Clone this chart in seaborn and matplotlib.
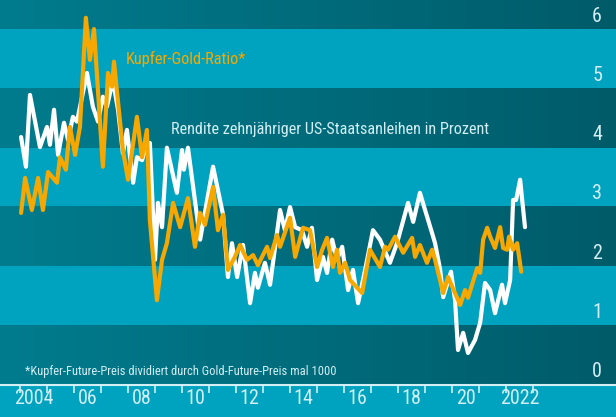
import matplotlib
matplotlib.use("Agg")
import matplotlib.pyplot as plt
import numpy as np
import pandas as pd
import seaborn as sns
from matplotlib.colors import LinearSegmentedColormap
from matplotlib import font_manager

# Rendite zehnjähriger US-Staatsanleihen (Prozent), Zeitpunkte als Dezimaljahr
rendite_jahr = [
    2004.04, 2004.22, 2004.37, 2004.74, 2005.00, 2005.11, 2005.26, 2005.41, 2005.63, 2005.78,
    2005.96, 2006.11, 2006.48, 2006.70, 2006.89, 2007.07, 2007.22, 2007.44, 2007.63, 2007.81,
    2007.96, 2008.19, 2008.33, 2008.52, 2008.70, 2008.81, 2009.00, 2009.11, 2009.26, 2009.44,
    2009.81, 2010.00, 2010.07, 2010.22, 2010.67, 2011.15, 2011.52, 2011.70, 2011.85, 2012.04,
    2012.26, 2012.52, 2012.70, 2012.81, 2013.07, 2013.26, 2013.63, 2013.81, 2014.00, 2014.19,
    2014.44, 2014.63, 2014.81, 2015.00, 2015.22, 2015.37, 2015.56, 2015.74, 2015.93, 2016.15,
    2016.33, 2016.52, 2016.78, 2017.07, 2017.33, 2017.70, 2017.96, 2018.37, 2018.56, 2018.81,
    2019.00, 2019.26, 2019.37, 2019.56, 2019.67, 2019.96, 2020.11, 2020.22, 2020.41, 2020.59,
    2020.85, 2021.04, 2021.22, 2021.41, 2021.59, 2021.85, 2021.96, 2022.15, 2022.26, 2022.37,
    2022.52, 2022.70,
]
rendite = [
    4.18, 3.68, 4.89, 4.01, 4.35, 4.05, 4.64, 3.88, 4.42, 4.13,
    4.52, 4.44, 5.26, 4.69, 4.44, 4.86, 4.69, 5.14, 4.64, 3.91,
    4.30, 3.41, 3.84, 3.79, 4.08, 4.08, 2.11, 3.07, 2.66, 4.00,
    3.24, 3.96, 3.63, 4.00, 2.45, 3.68, 2.87, 1.82, 2.39, 1.82,
    2.36, 1.38, 1.89, 1.64, 2.06, 1.69, 2.95, 2.61, 3.00, 2.66,
    2.61, 2.33, 2.65, 1.77, 2.16, 1.89, 2.45, 2.11, 2.33, 1.60,
    1.94, 1.38, 1.94, 2.61, 2.45, 2.06, 2.39, 3.07, 2.75, 3.24,
    2.95, 2.56, 2.39, 1.94, 1.48, 1.91, 1.43, 0.59, 0.88, 0.54,
    0.76, 1.05, 1.72, 1.60, 1.21, 1.69, 1.38, 1.77, 3.12, 3.12,
    3.46, 2.66,
]

# Kupfer-Gold-Ratio
ratio_jahr = [
    2004.04, 2004.19, 2004.44, 2004.67, 2004.85, 2005.04, 2005.37, 2005.48, 2005.70, 2005.85,
    2006.04, 2006.22, 2006.44, 2006.59, 2006.74, 2007.07, 2007.26, 2007.41, 2007.48, 2007.81,
    2008.00, 2008.33, 2008.52, 2008.70, 2008.81, 2009.07, 2009.26, 2009.44, 2009.67, 2009.93,
    2010.22, 2010.48, 2010.67, 2010.85, 2011.15, 2011.33, 2011.52, 2011.70, 2011.96, 2012.15,
    2012.41, 2012.63, 2012.81, 2013.15, 2013.26, 2013.52, 2013.63, 2014.00, 2014.19, 2014.48,
    2014.74, 2015.00, 2015.19, 2015.37, 2015.59, 2015.74, 2015.85, 2016.04, 2016.22, 2016.67,
    2016.96, 2017.33, 2017.52, 2017.63, 2017.89, 2018.19, 2018.52, 2018.63, 2018.81, 2019.07,
    2019.26, 2019.37, 2019.67, 2019.85, 2020.30, 2020.48, 2020.59, 2020.93, 2021.04, 2021.15,
    2021.30, 2021.41, 2021.59, 2021.78, 2021.89, 2022.04, 2022.11, 2022.26, 2022.41, 2022.56,
]
ratio = [
    2.90, 3.49, 2.95, 3.49, 2.95, 3.59, 3.41, 3.84, 3.63, 4.35,
    3.88, 4.35, 6.19, 5.48, 6.00, 3.68, 5.26, 5.03, 5.45, 3.96,
    3.46, 4.52, 3.84, 4.30, 2.78, 1.43, 2.11, 2.39, 3.07, 2.66,
    3.15, 2.33, 2.90, 2.70, 3.34, 2.61, 2.87, 1.94, 2.16, 2.36,
    2.11, 2.19, 2.02, 2.33, 2.14, 2.53, 2.33, 2.82, 2.16, 2.65,
    2.61, 1.99, 2.28, 2.48, 1.99, 2.28, 1.89, 2.06, 1.77, 1.55,
    2.28, 1.99, 2.33, 2.28, 2.50, 2.23, 2.48, 2.16, 2.36, 2.06,
    2.28, 2.11, 1.55, 1.82, 1.35, 1.60, 1.47, 1.97, 1.89, 2.45,
    2.65, 2.50, 2.31, 2.66, 2.31, 2.28, 2.50, 2.28, 2.39, 1.91,
]

x_beschriftung = ["2004", "06", "08", "10", "12", "14", "16", "18", "20", "2022"]
y_werte = [0, 1, 2, 3, 4, 5, 6]

hell = "#00a3bf"
dunkel_links = "#007c8e"
dunkel_rechts = "#005b69"
orange = "#f6a800"
text_hell = "#d3eef4"

sns.set_style("white")
plt.rcParams["font.family"] = ["DejaVu Sans"]
plt.rcParams["font.stretch"] = "condensed"

# schmale Schrift, falls vorhanden
namen = {f.name for f in font_manager.fontManager.ttflist}
schmal = None
for kandidat in ["Liberation Sans Narrow", "DejaVu Sans Condensed", "Roboto Condensed",
                 "Open Sans Condensed", "Noto Sans Condensed"]:
    if kandidat in namen:
        schmal = kandidat
        break
if schmal:
    plt.rcParams["font.family"] = [schmal, "DejaVu Sans"]

fig = plt.figure(figsize=(6.16, 4.17), dpi=100, facecolor=hell)
ax = fig.add_axes([0, 32 / 417, 1, 385 / 417])
ax.set_facecolor(hell)

xmin, xmax = 2003.26, 2026.07
ymax = 6.49

# Streifen: dunkle Bänder mit leichtem Verlauf
verlauf = LinearSegmentedColormap.from_list("verlauf", [dunkel_links, dunkel_rechts])
grad = np.linspace(0, 1, 256).reshape(1, -1)
for unten in [0, 2, 4, 6]:
    oben = min(unten + 1, ymax)
    ax.imshow(grad, extent=[xmin, xmax, unten, oben], aspect="auto",
              cmap=verlauf, zorder=0, interpolation="bicubic")

df_r = pd.DataFrame({"jahr": rendite_jahr, "wert": rendite})
df_k = pd.DataFrame({"jahr": ratio_jahr, "wert": ratio})
sns.lineplot(data=df_r, x="jahr", y="wert", color="white", lw=3, ax=ax,
             sort=False, zorder=3)
sns.lineplot(data=df_k, x="jahr", y="wert", color=orange, lw=3, ax=ax,
             sort=False, zorder=4)

ax.set_xlim(xmin, xmax)
ax.set_ylim(0, ymax)

# x-Achse: Striche an Jahresanfängen, Beschriftung in der Jahresmitte
jahre = np.arange(2004, 2024)
ax.set_xticks(jahre)
ax.set_xticks([2004.5 + 2 * i for i in range(len(x_beschriftung))], minor=True)
ax.set_xticklabels(x_beschriftung, minor=True, fontsize=14.5, color=text_hell)
ax.tick_params(axis="x", which="major", bottom=True, direction="out", length=6,
               width=1.2, color=text_hell, labelbottom=False)
ax.tick_params(axis="x", which="minor", bottom=True, length=0, pad=3)
ax.set_yticks([])
ax.set_xlabel("")
ax.set_ylabel("")
for s in ["top", "left", "right"]:
    ax.spines[s].set_visible(False)
ax.spines["bottom"].set_color(text_hell)
ax.spines["bottom"].set_linewidth(1.5)

# y-Beschriftung rechts im Diagramm
for v in y_werte:
    ax.text(2025.37, v + 0.06, str(v), ha="center", va="bottom",
            fontsize=14.5, color=text_hell, zorder=5)

ax.text(2007.9, 5.5, "Kupfer-Gold-Ratio*", color=orange, fontsize=11.8,
        ha="left", va="center", zorder=5)
ax.text(2009.6, 4.3, "Rendite zehnjähriger US-Staatsanleihen in Prozent",
        color=text_hell, fontsize=11.7, ha="left", va="center", zorder=5)
ax.text(2004.19, 0.22, "*Kupfer-Future-Preis dividiert durch Gold-Future-Preis mal 1000",
        color=text_hell, fontsize=9.0, ha="left", va="center", zorder=5)

fig.savefig("out.png", dpi=100, facecolor=hell)
